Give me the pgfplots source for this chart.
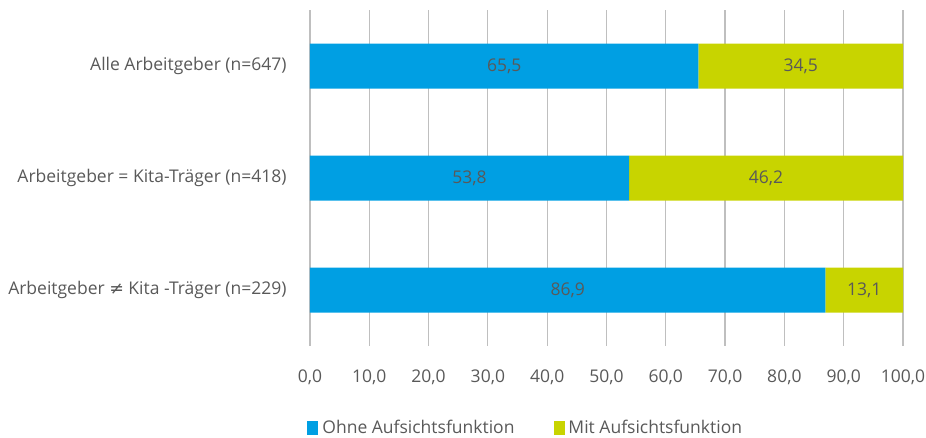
\documentclass[border=0pt]{standalone}
\usepackage{fontspec}
\setmainfont{Open Sans}
\newfontfamily\dejavu{DejaVu Sans}
\usepackage{pgfplots}
\usepackage{pgfplotstable}
\pgfplotsset{compat=1.18}
\definecolor{cblue}{HTML}{009FE3}
\definecolor{cgreen}{HTML}{C8D400}
\definecolor{ctext}{HTML}{595959}
\definecolor{cgrid}{HTML}{BFBFBF}
\pgfplotstableread{
pos ohne mit
0 65.5 34.5
1 53.8 46.2
2 86.9 13.1
}\data
\newcommand{\tfont}{\fontsize{8.75bp}{10.5bp}\selectfont}
\begin{document}
\begin{tikzpicture}
\path[use as bounding box] (-155bp,-46bp) rectangle (308bp,173bp);
\begin{axis}[
  at={(0,0)}, anchor=south west, scale only axis,
  width=296.5bp, height=168bp,
  xbar stacked, bar width=22.5bp,
  xmin=0, xmax=100, ymin=-0.5, ymax=2.5, y dir=reverse,
  ytick={0,1,2},
  yticklabels={{Alle Arbeitgeber (n=647)},{Arbeitgeber = Kita-Träger (n=418)},{Arbeitgeber {\dejavu ≠} Kita -Träger (n=229)}},
  xtick={0,10,...,100},
  xmajorgrids, major grid style={cgrid, line width=0.6bp},
  axis line style={draw=none}, major tick style={draw=none},
  /pgf/number format/assume math mode=true,
  /pgf/number format/use comma, /pgf/number format/fixed, /pgf/number format/fixed zerofill, /pgf/number format/precision=1,
  xticklabel style={font=\tfont, text=ctext, anchor=base, yshift=-18bp},
  yticklabel style={font=\tfont, text=ctext, anchor=east, inner sep=0pt, xshift=-11.5bp},
  legend style={at={(-0.005,-0.244)}, anchor=west, draw=none, fill=none, font=\tfont, text=ctext, inner sep=0pt,
    /tikz/every even column/.append style={column sep=17.5bp}},
  legend columns=2,
  legend image code/.code={\fill[#1] (0bp,-3.4bp) rectangle (5.5bp,3.4bp);},
]
\addplot[fill=cblue, draw=none] table[x=ohne, y=pos] {\data};
\addplot[fill=cgreen, draw=none] table[x=mit, y=pos] {\data};
\legend{Ohne Aufsichtsfunktion, Mit Aufsichtsfunktion}
\end{axis}
\begin{axis}[
  at={(0,0)}, anchor=south west, scale only axis,
  width=296.5bp, height=168bp,
  xmin=0, xmax=100, ymin=-0.5, ymax=2.5, y dir=reverse,
  hide axis,
  nodes near coords, point meta=explicit,
  every node near coord/.append style={anchor=center, font=\tfont, text=ctext},
  /pgf/number format/assume math mode=true,
  /pgf/number format/use comma, /pgf/number format/fixed, /pgf/number format/fixed zerofill, /pgf/number format/precision=1,
]
\addplot[draw=none, mark=none] table[x expr=\thisrow{ohne}/2, y=pos, meta=ohne] {\data};
\addplot[draw=none, mark=none] table[x expr=\thisrow{ohne}+\thisrow{mit}/2, y=pos, meta=mit] {\data};
\end{axis}
\end{tikzpicture}
\end{document}
